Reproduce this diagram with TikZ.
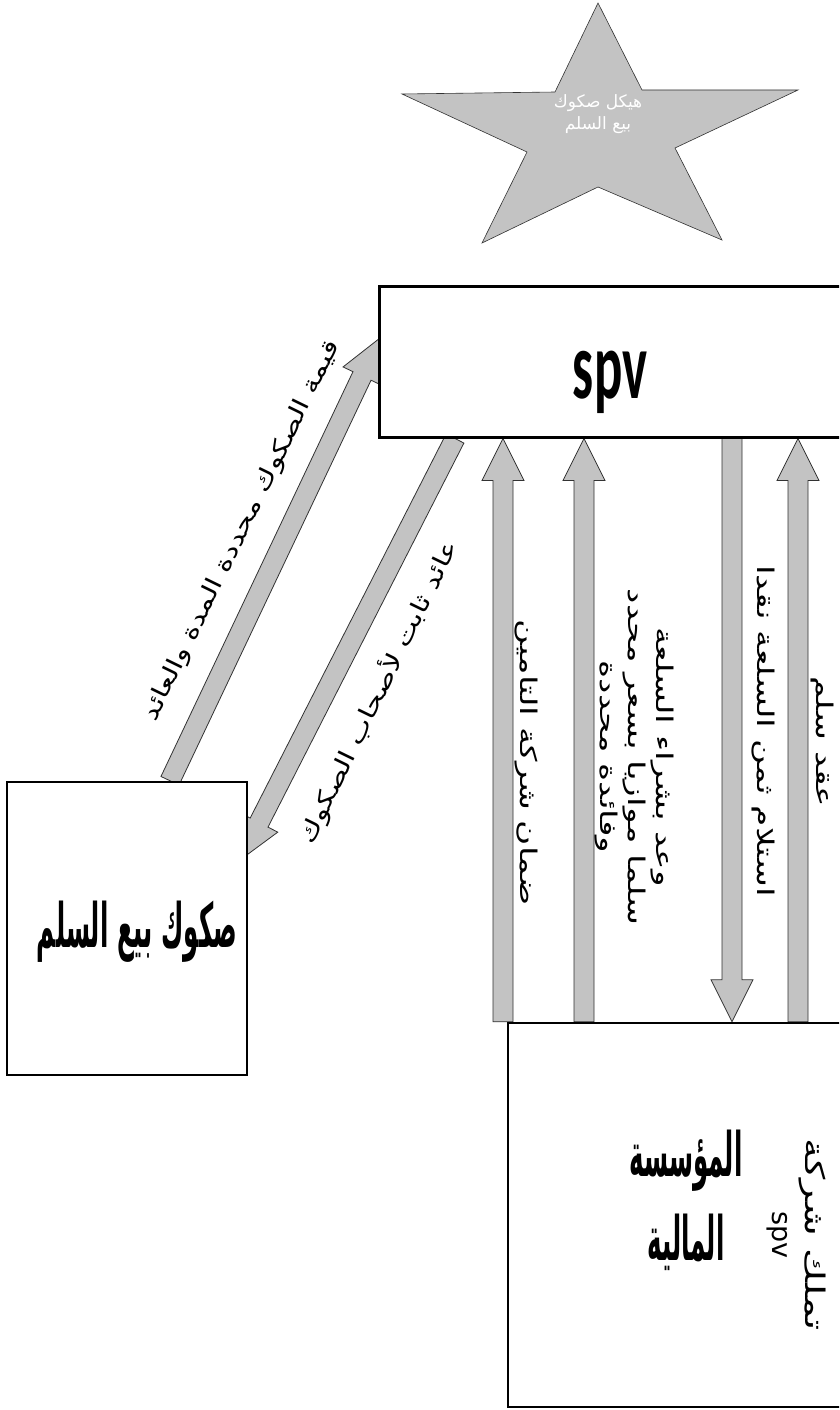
\documentclass[tikz,border=0pt]{standalone}
\usepackage{fontspec}
\setmainfont{DejaVu Sans}
\newfontfamily\arabicfont[Script=Arabic]{DejaVu Sans}
\newfontfamily\spvfont{Carlito}
\TeXXeTstate=1
\usetikzlibrary{calc,backgrounds}
\definecolor{salamgray}{RGB}{195,195,195}
\definecolor{salamedge}{RGB}{50,50,50}
\newcommand{\sx}[1]{\scalebox{1.5}[1]{#1}}
\newcommand{\dx}[1]{\scalebox{1.3}[1]{#1}}
\newcommand{\tall}[1]{\scalebox{0.72}[1.8]{#1}}
\tikzset{
  sbox/.style={rectangle, draw=black, line width=2.5pt, fill=white, inner sep=0pt},
  fatarr/.style={fill=salamgray, draw=salamedge, line width=0.8pt, line join=miter},
  vlbl/.style={rotate=-90, align=center, inner sep=0pt, font=\arabicfont\fontsize{23}{28}\selectfont},
  dlbl/.style={rotate=64, inner sep=0pt, font=\arabicfont\fontsize{23}{28}\selectfont},
  big/.style={font=\arabicfont\bfseries\fontsize{34}{84}\selectfont, align=center},
}
% block arrow: shaft from #1, head tip at #2
\newcommand{\fatarrow}[2]{%
  \coordinate (fa1) at (#1); \coordinate (fa2) at (#2);
  \coordinate (fah) at ($(fa2)!42pt!(fa1)$);
  \path[fatarr] ($(fa1)!10pt!90:(fa2)$) -- ($(fah)!10pt!90:(fa2)$) -- ($(fah)!21pt!90:(fa2)$)
    -- (fa2) -- ($(fah)!21pt!-90:(fa2)$) -- ($(fah)!10pt!-90:(fa2)$) -- ($(fa1)!10pt!-90:(fa2)$) -- cycle;}

\begin{document}
\begin{tikzpicture}[x=1pt,y=-1pt]
  \useasboundingbox (0,0) rectangle (839,1410);
  \clip (0,0) rectangle (839,1410);
  % star
  \path[fatarr, line width=0.6pt] (598,3) -- (642,90) -- (798,90) -- (675,148) -- (722,240) -- (598,187)
    -- (482,243) -- (527,152) -- (402,94) -- (555,92) -- cycle;
  \node[text=white, align=center, font=\arabicfont\fontsize{17}{22}\selectfont] (startxt) at (598,114)
    {\beginR هيكل صكوك\endR\\\beginR بيع السلم\endR};
  % boxes
  \node[sbox, minimum width=470, minimum height=151, anchor=north west] (spv) at (378,285) {};
  \node[font=\spvfont\bfseries\fontsize{96}{96}\selectfont] (spvlbl) at (610,382) {\scalebox{0.55}[1]{spv}};
  \node[sbox, minimum width=240, minimum height=293] (sukuk) at (127,928.5) {};
  \node[big] (sukuklbl) at (137,932) {\tall{\beginR صكوك بيع السلم\endR}};
  \node[sbox, minimum width=362, minimum height=384] (fin) at (689,1215) {};
  \node[big] (finlbl) at (686,1200) {\tall{\beginR المؤسسة\endR}\\\tall{\beginR المالية\endR}};
  \node[vlbl, font=\arabicfont\fontsize{27}{33}\selectfont] (own) at (796,1235)
    {\sx{\beginR تملك شركة\endR}\\\beginL spv\endL};
  % arrows
  \coordinate (xa) at (503,0); \coordinate (xb) at (584,0);
  \coordinate (xc) at (732,0); \coordinate (xd) at (798,0);
  \coordinate (ta) at (170,0); \coordinate (tipa) at (380,338);
  \coordinate (tb) at (455,0); \coordinate (tipb) at (240,860);
  \begin{scope}[on background layer]
    \fill[white] (0,0) rectangle (839,1410);
    \fatarrow{fin.north -| xa}{spv.south -| xa}
    \fatarrow{fin.north -| xb}{spv.south -| xb}
    \fatarrow{spv.south -| xc}{fin.north -| xc}
    \fatarrow{fin.north -| xd}{spv.south -| xd}
    \fatarrow{sukuk.north -| ta}{tipa}
    \fatarrow{spv.south -| tb}{tipb}
  \end{scope}
  % labels
  \node[vlbl] (lins) at (526,763) {\sx{\beginR ضمان شركة التامين\endR}};
  \node[vlbl] (lpromise) at (634,757) {\sx{\beginR وعد بشراء السلعة\endR}\\\sx{\beginR سلما موازيا بسعر محدد\endR}\\\sx{\beginR وفائدة محددة\endR}};
  \node[vlbl] (lprice) at (763,731) {\sx{\beginR استلام ثمن السلعة نقدا\endR}};
  \node[vlbl] (lcontract) at (822,742) {\sx{\beginR عقد سلم\endR}};
  \node[dlbl] (lvalue) at (242,531) {\dx{\beginR قيمة الصكوك محددة المدة والعائد\endR}};
  \node[dlbl] (lreturn) at (378,692) {\dx{\beginR عائد ثابت لأصحاب الصكوك\endR}};
\end{tikzpicture}
\end{document}
